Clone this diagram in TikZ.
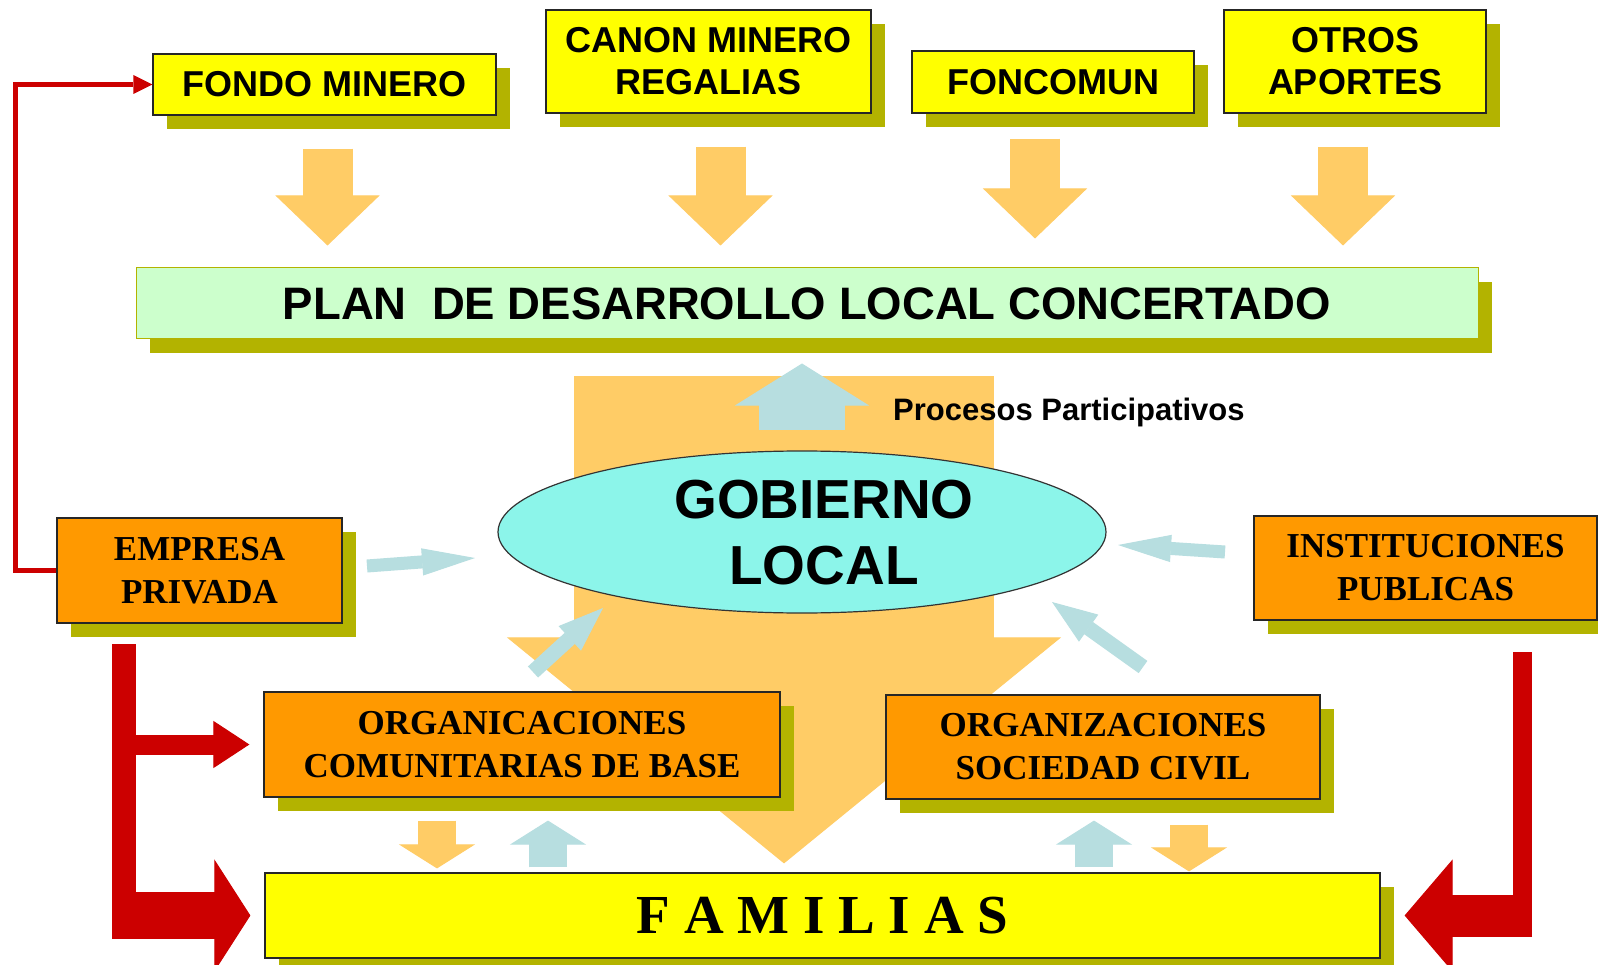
\documentclass[tikz,border=0pt]{standalone}
\usepackage{fontspec}
\setmainfont{Liberation Serif}
\setsansfont{Liberation Sans}
\usetikzlibrary{shapes.geometric,arrows.meta,shadows}
\definecolor{amar}{HTML}{FFFF00}
\definecolor{oliva}{HTML}{B3B300}
\definecolor{naranja}{HTML}{FF9900}
\definecolor{verdep}{HTML}{CCFFCC}
\definecolor{flecha}{HTML}{FFCC66}
\definecolor{celeste}{HTML}{B7DEE0}
\definecolor{cian}{HTML}{8CF5EA}
\definecolor{rojo}{HTML}{CC0000}
\pgfdeclarelayer{bg}
\pgfsetlayers{bg,main}

\begin{document}
\begin{tikzpicture}[x=1pt,y=-1pt,
  caja/.style={draw=black!85,line width=1.2pt,inner sep=0pt,align=center,
    drop shadow={shadow xshift=14pt,shadow yshift=-14pt,fill=oliva,opacity=1}},
  ybox/.style={caja,fill=amar,font=\sffamily\bfseries\fontsize{36}{42}\selectfont},
  obox/.style={caja,fill=naranja,font=\bfseries\fontsize{35}{43}\selectfont},
  blk/.style n args={3}{line width=#1,-{Triangle[length=#2,width=#3,line width=1pt]}},
  baja/.style={draw=flecha,blk={50pt}{50pt}{104pt},shorten <=33pt,shorten >=22pt},
  chica/.style={blk={38pt}{24pt}{76pt}}]
 % \draw[help lines] (0,0) grid (1598,965);
  \useasboundingbox (0,0) rectangle (1598,965);
  \begin{pgfonlayer}{bg}
    \fill[white] (0,0) rectangle (1598,965);
  \end{pgfonlayer}

  % fuentes
  \node[ybox,minimum width=343,minimum height=61] (fondo) at (324.5,84.5) {FONDO MINERO};
  \node[ybox,minimum width=325,minimum height=103] (canon) at (708.5,61.5) {CANON MINERO\\REGALIAS};
  \node[ybox,minimum width=282,minimum height=62] (foncomun) at (1053,82) {FONCOMUN};
  \node[ybox,minimum width=262,minimum height=103] (otros) at (1355,61.5) {OTROS\\APORTES};

  \node[caja,fill=verdep,draw=oliva,line width=1pt,minimum width=1342,minimum height=71,
        font=\sffamily\bfseries\fontsize{45.5}{50}\selectfont] (plan) at (807,303.5)
        {PLAN\ \ DE DESARROLLO LOCAL CONCERTADO};

  \draw[baja] ([xshift=3pt]fondo.south) -- ([xshift=3pt]fondo.south |- plan.north);
  \draw[baja] ([xshift=12pt]canon.south) -- ([xshift=12pt]canon.south |- plan.north);
  \draw[baja,shorten <=25pt,shorten >=29pt] ([xshift=-18pt]foncomun.south) -- ([xshift=-18pt]foncomun.south |- plan.north);
  \draw[baja] ([xshift=-12pt]otros.south) -- ([xshift=-12pt]otros.south |- plan.north);

  % gobierno local
  \node[ellipse,draw=black!80,line width=1.2pt,fill=cian,minimum width=608,minimum height=162,inner sep=0pt] (gob) at (802,532) {};
  \node[font=\sffamily\bfseries\fontsize{55}{66}\selectfont,align=center,inner sep=0pt] (gobt) at (824,533) {GOBIERNO\\LOCAL};
  \draw[draw=celeste,blk={86pt}{42pt}{134pt},shorten <=20pt,shorten >=24pt] (gob.north) -- (gob.north |- plan.south);
  \node[font=\sffamily\bfseries\fontsize{31}{36}\selectfont,anchor=west,inner sep=0pt] (proc) at (893,412) {Procesos Participativos};

  % actores
  \node[obox,minimum width=285,minimum height=105] (empresa) at (199.5,570.5) {EMPRESA\\PRIVADA};
  \node[obox,minimum width=343,minimum height=104] (inst) at (1425.5,568) {INSTITUCIONES\\PUBLICAS};
  \node[obox,minimum width=516,minimum height=105] (orgcom) at (522,744.5) {ORGANICACIONES\\COMUNITARIAS DE BASE};
  \node[obox,minimum width=434,minimum height=104] (orgsoc) at (1103,747) {ORGANIZACIONES\\SOCIEDAD CIVIL};
  \node[ybox,minimum width=1115,minimum height=85,font=\rmfamily\bfseries\fontsize{55}{60}\selectfont] (famil) at (822.5,915.5) {F A M I L I A S};

  \begin{pgfonlayer}{bg}
    \draw[draw=flecha,blk={420pt}{226pt}{554pt},shorten <=37pt,shorten >=9pt]
      ([xshift=-23pt]plan.south) -- ([xshift=-23pt]plan.south |- famil.north);
  \end{pgfonlayer}

  % flechas celestes hacia el gobierno
  \coordinate (emp1) at (367,566); \coordinate (emp2) at (475,558);
  \coordinate (ins1) at (1225,552); \coordinate (ins2) at (1118,545);
  \coordinate (com1) at (533,672); \coordinate (com2) at (603,608);
  \coordinate (soc1) at (1143,667); \coordinate (soc2) at (1052,602);
  \draw[draw=celeste,blk={13pt}{53pt}{27pt}] (emp1) -- (emp2);
  \draw[draw=celeste,blk={13pt}{53pt}{27pt}] (ins1) -- (ins2);
  \draw[draw=celeste,blk={15pt}{45pt}{33pt}] (com1) -- (com2);
  \draw[draw=celeste,blk={15pt}{45pt}{33pt}] (soc1) -- (soc2);

  % organizaciones y familias
  \draw[draw=flecha,chica,shorten <=23pt,shorten >=4pt] ([xshift=-85pt]orgcom.south) -- ([xshift=-85pt]orgcom.south |- famil.north);
  \draw[draw=celeste,chica,shorten <=5pt,shorten >=23pt] ([xshift=26pt]orgcom.south |- famil.north) -- ([xshift=26pt]orgcom.south);
  \draw[draw=celeste,chica,shorten <=5pt,shorten >=21pt] ([xshift=-9pt]orgsoc.south |- famil.north) -- ([xshift=-9pt]orgsoc.south);
  \draw[draw=flecha,chica,shorten <=25pt,shorten >=1pt] ([xshift=86pt]orgsoc.south) -- ([xshift=86pt]orgsoc.south |- famil.north);

  % flechas rojas
  \draw[rojo,line width=5pt,-{Triangle[length=19pt,width=19pt,line width=0pt]}] (empresa.west) -- ++(-41,0) |- (fondo.west);
  \draw[rojo,line width=24pt] (124,644) -- (124,909);
  \draw[draw=rojo,blk={20pt}{36pt}{47pt},shorten >=14pt] (124,0 |- orgcom.west) -- (orgcom.west);
  \draw[draw=rojo,blk={47pt}{36pt}{112pt},shorten >=14pt] (112,0 |- famil.west) -- (famil.west);
  \draw[rojo,line width=19pt] (1522,652) -- (1522,911);
  \draw[draw=rojo,blk={42pt}{48pt}{112pt},shorten >=24pt] (1532,0 |- famil.east) -- (famil.east);
\end{tikzpicture}
\end{document}
